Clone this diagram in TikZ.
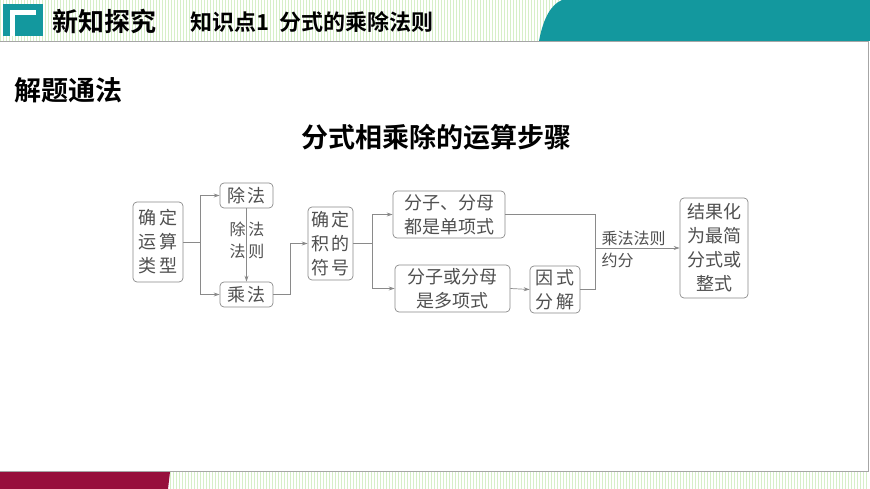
\documentclass[tikz,border=0pt]{standalone}
\usepackage{fontspec}
\newfontfamily\cjk{Noto Sans CJK SC}
\newfontfamily\cjkb{Noto Sans CJK SC Bold}
\usetikzlibrary{arrows.meta}
\definecolor{teal1}{HTML}{13989E}
\definecolor{crim}{HTML}{970F3C}
\definecolor{lg}{HTML}{D6EFC8}
\definecolor{ln}{HTML}{8A8A8A}
\definecolor{tx}{HTML}{505050}
\begin{document}
\begin{tikzpicture}[x=1pt,y=-1pt,
  bx/.style={draw=ln,rounded corners=4pt,line width=0.7pt,text=tx,font=\cjk\fontsize{18}{24}\selectfont,align=center,inner sep=0pt},
  ar/.style={draw=ln,line width=0.7pt,-{Stealth[length=6pt,width=4pt]}},
  ln/.style={draw=ln,line width=0.7pt},
  lab/.style={text=tx,font=\cjk\fontsize{16}{22}\selectfont,align=left}]
\useasboundingbox (0,0) rectangle (870,489);
\fill[white] (0,0) rectangle (870,489);
% header stripes
\foreach \i in {0,3,...,867} {\draw[lg,line width=0.6pt] (\i,0) -- (\i,41);}
\foreach \i in {170,173,...,867} {\draw[lg,line width=0.6pt] (\i,472) -- (\i,489);}
\fill[teal1] (539,41) .. controls (543,20) and (550,5) .. (562,0) -- (870,0) -- (870,41) -- cycle;
\fill[crim] (0,472) -- (170,472) -- (168,489) -- (0,489) -- cycle;
\draw[gray!70,line width=0.8pt,fill=white] (-2,41) rectangle (868,471);
% icon
\fill[teal1] (3,4) rectangle (43,36);
\fill[white] (10,10) rectangle (36,15);
\fill[white] (10,10) rectangle (15,36);
\fill[teal1] (15,15) rectangle (43,36);
\node[anchor=west,font=\cjkb\fontsize{26}{28}\selectfont,inner sep=0pt] (t1) at (52,21) {新知探究};
\node[anchor=west,font=\cjkb\fontsize{22}{24}\selectfont,inner sep=0pt] (t2) at (190,22) {知识点1\ \ 分式的乘除法则};
\node[anchor=west,font=\cjkb\fontsize{27}{30}\selectfont,inner sep=0pt] (t3) at (14,90) {解题通法};
\node[font=\cjkb\fontsize{27}{30}\selectfont] (t4) at (436,137) {分式相乘除的运算步骤};
% boxes
\node[bx,minimum width=50pt,minimum height=80pt] (a) at (158,242) {确\,定\\运\,算\\类\,型};
\node[bx,minimum width=53pt,minimum height=25pt] (b) at (246.5,195.5) {除\,法};
\node[bx,minimum width=53pt,minimum height=25pt] (c) at (246.5,294.5) {乘\,法};
\node[bx,minimum width=45pt,minimum height=73pt] (d) at (330.5,243.5) {确\,定\\积\,的\\符\,号};
\node[bx,minimum width=112pt,minimum height=47pt] (e) at (449,214.5) {分子、分母\\都是单项式};
\node[bx,minimum width=115pt,minimum height=47pt] (f) at (452.5,288.5) {分子或分母\\是多项式};
\node[bx,minimum width=50pt,minimum height=47pt] (g) at (555,289.5) {因\,式\\分\,解};
\node[bx,minimum width=68pt,minimum height=100pt] (h) at (714,248) {结果化\\为最简\\分式或\\整式};
\node[lab] (l1) at (247,240) {除\,法\\法\,则};
\node[lab,anchor=west] (l2) at (598,249) {乘法法则\\约分};
% connectors
\coordinate (j1) at (200,242);
\draw[ln] (a.east) -- (j1);
\draw[ar] (j1) |- (b.west);
\draw[ar] (j1) |- (c.west);
\draw[ar] (b.south) -- (c.north);
\coordinate (j2) at (290,294.5);
\draw[ar] (c.east) -- (j2) |- (d.west);
\coordinate (j3) at (372,243.5);
\draw[ln] (d.east) -- (j3);
\draw[ar] (j3) |- (e.west);
\draw[ar] (j3) |- (f.west);
\draw[ar] (f.east) -- (g.west);
\coordinate (j4) at (595,248);
\draw[ln] (e.east) -| (j4);
\draw[ln] (g.east) -| (j4);
\draw[ar] (j4) -- (h.west);
\end{tikzpicture}
\end{document}
